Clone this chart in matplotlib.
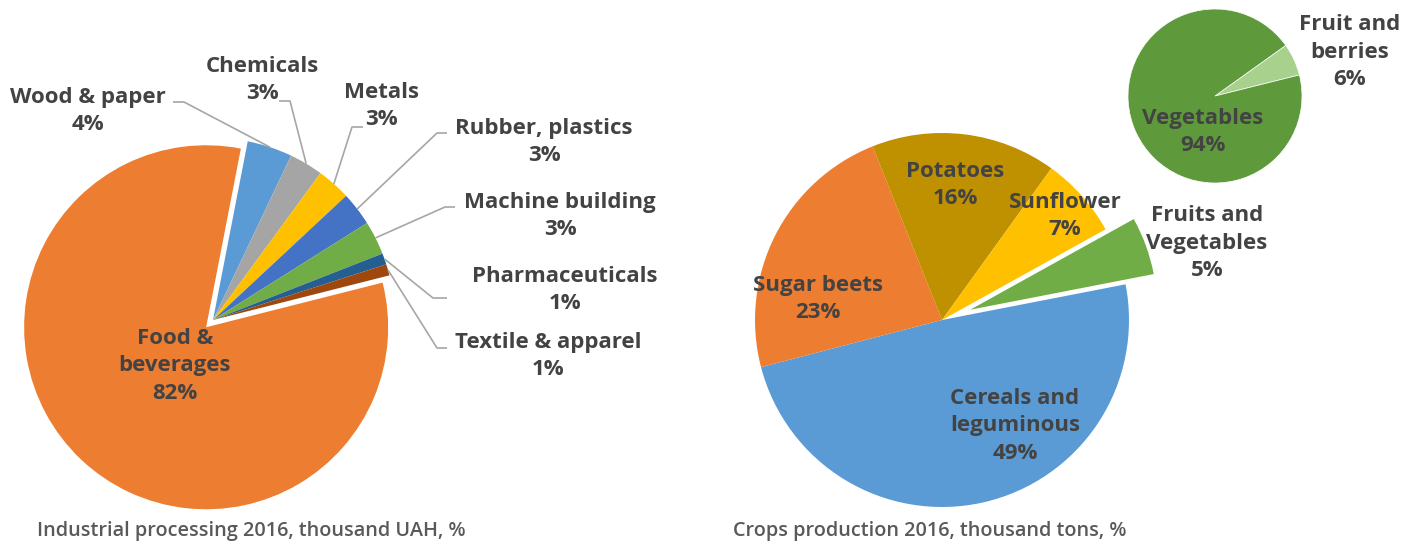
import numpy as np
import matplotlib
matplotlib.use("Agg")
import matplotlib.pyplot as plt

plt.rcParams['font.family'] = ['Open Sans', 'DejaVu Sans']

# ---------------- data ----------------
ind_labels = ["Food &\nbeverages", "Wood & paper", "Chemicals", "Metals",
              "Rubber, plastics", "Machine building", "Pharmaceuticals",
              "Textile & apparel"]
ind_values = [82, 4, 3, 3, 3, 3, 1, 1]
ind_colors = ["#ED7D31", "#5B9BD5", "#A5A5A5", "#FFC000", "#4472C4",
              "#70AD47", "#255E91", "#9E480E"]

crop_labels = ["Cereals and\nleguminous", "Sugar beets", "Potatoes",
               "Sunflower", "Fruits and\nVegetables"]
crop_values = [49, 23, 16, 7, 5]
crop_colors = ["#5B9BD5", "#ED7D31", "#BF9000", "#FFC000", "#70AD47"]

fv_labels = ["Fruit and\nberries", "Vegetables"]
fv_values = [6, 94]
fv_colors = ["#A9D18E", "#5E9A3B"]

title_left = "Industrial processing 2016, thousand UAH, %"
title_right = "Crops production 2016, thousand tons, %"

# ---------------- figure ----------------
W, H = 1411, 542
fig = plt.figure(figsize=(W / 100, H / 100), dpi=100)
ax = fig.add_axes([0, 0, 1, 1])

def Y(y):
    return H - y

TXT = "#434343"
FS = 16

# left pie
lw, _ = ax.pie(ind_values, colors=ind_colors, center=(213, Y(320)), radius=182,
               startangle=14.2, counterclock=False,
               explode=[10, 0, 0, 0, 0, 0, 0, 0],
               wedgeprops=dict(linewidth=0), frame=True)

# right pie
rw, _ = ax.pie(crop_values, colors=crop_colors, center=(942, Y(320)), radius=187,
               startangle=11, counterclock=False,
               explode=[0, 0, 0, 0, 30],
               wedgeprops=dict(linewidth=0), frame=True)

# small pie
sw, _ = ax.pie(fv_values, colors=fv_colors, center=(1215, Y(96)), radius=87,
               startangle=14, counterclock=True,
               wedgeprops=dict(edgecolor='white', linewidth=0.5), frame=True)

ax.set_xlim(0, W)
ax.set_ylim(0, H)
ax.set_aspect('equal')
ax.axis('off')

def label(x, y, name, val):
    ax.text(x, Y(y), f"{name}\n{val}%", ha='center', va='center',
            fontsize=FS, fontweight='bold', color=TXT, linespacing=1.4)

def arc_mid(w):
    t = np.deg2rad(0.5 * (w.theta1 + w.theta2))
    cx, cy = w.center
    return cx + w.r * np.cos(t), cy + w.r * np.sin(t)

LC = "#A6A6A6"
def leader(w, pts):
    x0, y0 = arc_mid(w)
    xs = [x0] + [p[0] for p in pts]
    ys = [y0] + [Y(p[1]) for p in pts]
    ax.plot(xs, ys, color=LC, lw=1.2, solid_capstyle='butt')

# left labels
label(175, 366, ind_labels[0], ind_values[0])
label(88, 111, ind_labels[1], ind_values[1])
label(262, 80, ind_labels[2], ind_values[2])
label(381, 106, ind_labels[3], ind_values[3])
label(544, 142, ind_labels[4], ind_values[4])
label(560, 216, ind_labels[5], ind_values[5])
label(565, 290, ind_labels[6], ind_values[6])
label(548, 356, ind_labels[7], ind_values[7])

leader(lw[1], [(184, 102), (173, 102)])
leader(lw[2], [(290, 101), (279, 101)])
leader(lw[3], [(352, 127), (363, 127)])
leader(lw[4], [(437, 133), (447, 133)])
leader(lw[5], [(445, 207), (455, 207)])
leader(lw[6], [(433, 298), (447, 298)])
leader(lw[7], [(437, 348), (447, 348)])

# right labels
label(1015, 426, crop_labels[0], crop_values[0])
label(818, 299, crop_labels[1], crop_values[1])
label(955, 185, crop_labels[2], crop_values[2])
label(1065, 216, crop_labels[3], crop_values[3])
label(1207, 243, crop_labels[4], crop_values[4])

label(1350, 52, fv_labels[0], fv_values[0])
label(1203, 132, fv_labels[1], fv_values[1])

# titles
ax.text(37, Y(531), title_left, ha='left', va='center', fontsize=14.3,
        fontweight='semibold', color="#595959")
ax.text(733, Y(531), title_right, ha='left', va='center', fontsize=14.3,
        fontweight='semibold', color="#595959")

fig.savefig("out.png", dpi=100)
